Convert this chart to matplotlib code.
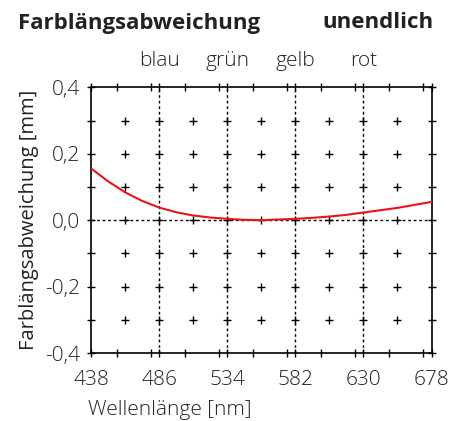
import numpy as np
import matplotlib
matplotlib.use("Agg")
import matplotlib.pyplot as plt
from matplotlib.ticker import MultipleLocator, FuncFormatter

plt.rcParams["font.family"] = ["Open Sans", "DejaVu Sans"]
plt.rcParams["font.weight"] = "light"

# curve (wavelength nm -> deviation mm)
wavelength = [438, 450, 462, 474, 486, 498, 510, 522, 534, 546, 558, 570,
              582, 594, 606, 618, 630, 642, 654, 666, 678]
deviation = [0.156, 0.117, 0.084, 0.058, 0.038, 0.024, 0.014, 0.008, 0.004, 0.001, 0.0, 0.002,
             0.004, 0.007, 0.011, 0.016, 0.023, 0.030, 0.037, 0.046, 0.055]

color_names = ["blau", "grün", "gelb", "rot"]
color_lines = [486, 534, 582, 630]
xtick_vals = [438, 486, 534, 582, 630, 678]
ytick_vals = [-0.4, -0.2, 0.0, 0.2, 0.4]

fig = plt.figure(figsize=(4.49, 4.21), dpi=100)
ax = fig.add_axes([0.2027, 0.1615, 0.7584, 0.6311])

ax.set_xlim(438, 678)
ax.set_ylim(-0.4, 0.4)

# dotted reference lines
for xv in color_lines:
    ax.axvline(xv, color="black", lw=1.0, ls=(0, (2, 2)), zorder=1)
ax.axhline(0, color="black", lw=1.0, ls=(0, (2, 2)), zorder=1)

# grid of small crosses
gx, gy = np.meshgrid(np.arange(462, 677, 24), np.arange(-0.3, 0.31, 0.1))
ax.plot(gx.ravel(), gy.ravel(), ls="none", marker="+", ms=6, mew=1.0,
        color="black", zorder=2)

ax.plot(wavelength, deviation, color="#e8141b", lw=1.5, zorder=3)

ax.set_xticks(xtick_vals)
ax.set_yticks(ytick_vals)
ax.xaxis.set_minor_locator(MultipleLocator(24))
ax.yaxis.set_minor_locator(MultipleLocator(0.1))
ax.yaxis.set_major_formatter(FuncFormatter(lambda v, p: f"{v:.1f}".replace(".", ",").replace("-0,0", "0,0")))
ax.tick_params(which="both", direction="inout", length=6, width=1.0,
               top=True, right=True, labelsize=15, labelcolor="#222222")
ax.tick_params(axis="x", pad=9)
ax.tick_params(axis="y", pad=5)
for s in ax.spines.values():
    s.set_linewidth(1.2)

for name, xv in zip(color_names, color_lines):
    ax.text(xv, 1.06, name, transform=ax.get_xaxis_transform(), ha="center",
            va="bottom", fontsize=15, color="#222222")

ax.set_ylabel("Farblängsabweichung [mm]", fontsize=14.5, labelpad=4,
              color="#222222")
fig.text(88 / 449, 1 - 410 / 421, "Wellenlänge [nm]", fontsize=15,
         ha="left", va="center", color="#222222")

fig.text(18 / 449, 1 - 23 / 421, "Farblängsabweichung", fontsize=16,
         fontweight="bold", ha="left", va="center", color="#222222")
fig.text(433 / 449, 1 - 23 / 421, "unendlich", fontsize=16,
         fontweight="bold", ha="right", va="center", color="#222222")

fig.savefig("out.png", dpi=100)
